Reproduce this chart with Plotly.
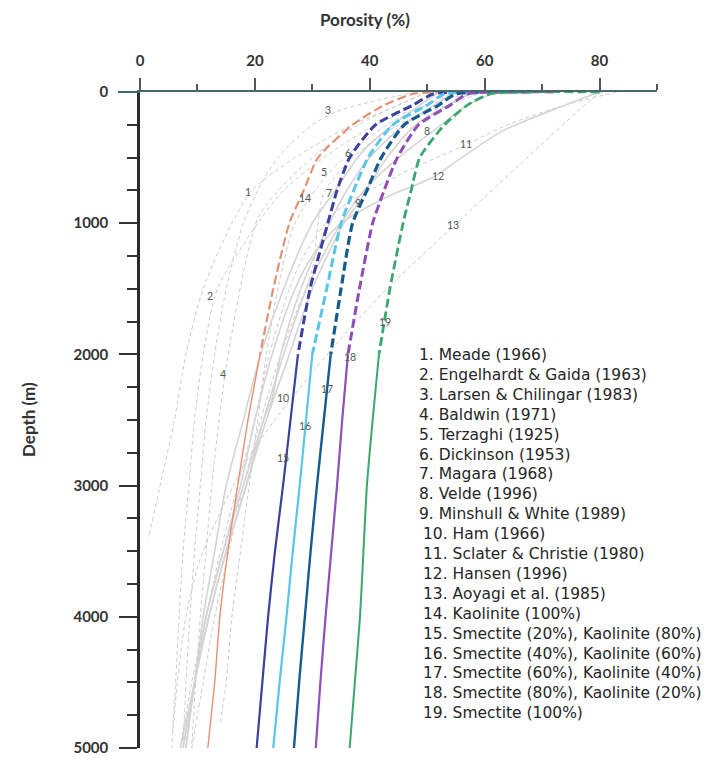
import plotly.graph_objects as go

# ---------------- data ----------------
# Published porosity-depth curves (grey)
meade_d = [0, 100, 250, 500, 750, 1000, 1500, 2000, 2500, 3000, 3400]
meade_p = [50, 45, 37, 27, 19.5, 16, 11, 8, 6, 3.5, 1.5]
engel_d = [0, 100, 250, 500, 750, 1000, 1500, 2000, 2500, 3000, 3500, 4000, 4500, 4900]
engel_p = [58, 50, 41, 32, 25, 20.5, 13.5, 11, 9.5, 8.5, 7.5, 6.8, 6.2, 5.6]
larsen_d = [0, 137, 250, 500, 750, 1000, 1500, 2000, 2500, 3000, 3500, 4000, 4500, 5000]
larsen_p = [48, 35, 30, 24, 20.5, 18, 15, 13, 11.5, 10.5, 9.5, 8.7, 8, 7.5]
baldwin_d = [0, 250, 500, 920, 1280, 2150, 3000, 3500, 4000, 4500, 5000]
baldwin_p = [50, 38, 30, 21, 18.5, 14.8, 12.5, 11.5, 10.5, 9.7, 9]
terzaghi_d = [0, 250, 610, 1000, 1500, 2000, 2500, 3000, 3500, 4000, 4500, 4800]
terzaghi_p = [55, 43, 33, 27, 24, 22, 20.5, 19, 17.5, 16, 15, 14]
dickinson_d = [0, 250, 465, 750, 1000, 1500, 2000, 2500, 3000, 3500, 4000, 4500, 5000]
dickinson_p = [52, 44, 38.5, 34, 30, 25, 21, 18, 15, 13, 11, 9.5, 8]
magara_d = [0, 250, 500, 771, 1000, 1350, 1700, 2000, 2500, 3000, 3500, 4000, 4500, 5000]
magara_p = [60, 45, 37, 32, 31, 30, 27, 24.5, 21, 18, 15.5, 13, 11, 9]
velde_d = [0, 100, 298, 500, 750, 1000, 1500, 2000, 2500, 3000, 3500, 4000, 4500, 5000]
velde_p = [62, 57, 51, 45, 39, 35, 29, 25, 21.5, 18.5, 15, 12, 9.5, 7.5]
minshull_d = [0, 250, 500, 847, 1000, 1500, 2000, 2500, 3000, 3500, 4000, 4500, 5000]
minshull_p = [58, 48, 43, 38, 35.5, 30, 26, 22, 18.5, 15, 12, 9.5, 7]
ham_d = [0, 250, 500, 750, 1000, 1500, 2000, 2336, 2500, 3000, 3500, 4000, 4500, 5000]
ham_p = [55, 46, 40, 36, 33, 28, 24.5, 23, 21.5, 18, 14.5, 11.5, 9.5, 8]
sclater_d = [0, 100, 250, 397, 634, 916, 1250, 1500, 2000, 2500, 3000, 3500, 4000, 4500, 5000]
sclater_p = [83, 74, 64, 57, 45, 34, 28.5, 26, 22.5, 20, 17, 14, 11.5, 9, 7]
hansen_d = [0, 100, 300, 500, 650, 800, 1000, 1250, 1500, 2000, 2500, 3000, 3500, 4000, 4500, 5000]
hansen_p = [80, 74, 63, 56, 51, 43, 35, 30, 27, 23, 20, 17.5, 14.5, 11.5, 9.5, 7.5]
aoyagi_d = [0, 23, 557, 1030, 1500, 1950, 2480, 2810, 3200, 3570, 4000, 4500, 5000]
aoyagi_p = [80.5, 79.5, 66, 54.4, 43, 33.6, 23.8, 18.6, 14, 10.4, 8, 6.5, 5.5]

# Clay-mixture curves (coloured)
mix_depth = [0, 15, 100, 250, 500, 750, 1000, 1500, 2000, 2500, 3000, 3500, 4000, 4500, 5000]
kaol100_p = [53, 47.5, 42.5, 37, 31, 28.5, 26, 23.2, 20.9, 18.8, 17, 15.3, 13.9, 13, 11.8]
sm20_p = [58, 51, 47.5, 41, 36.5, 34.3, 32.7, 29.6, 27.5, 26.2, 24.9, 23.5, 22.3, 21.3, 20.3]
sm40_p = [62, 53, 50, 44, 39.7, 37.2, 35, 32.5, 30, 28.9, 27.8, 26.6, 25.5, 24.3, 23.2]
sm60_p = [68, 55, 52, 46, 42, 39.5, 37, 35, 33.2, 32, 30.8, 29.7, 28.7, 27.7, 26.8]
sm80_p = [72, 57, 54, 48.5, 44.8, 42.5, 40.5, 38.2, 36.2, 35.2, 34.3, 33.3, 32.3, 31.4, 30.6]
sm100_p = [80, 61, 57, 53, 48.7, 47.2, 45.8, 43.5, 41.6, 40.5, 39.5, 38.9, 38.3, 37.4, 36.5]
dash_limit = 2000  # coloured curves dashed above this depth, solid below

legend_labels = [
    "1. Meade (1966)",
    "2. Engelhardt & Gaida (1963)",
    "3. Larsen & Chilingar (1983)",
    "4. Baldwin (1971)",
    "5. Terzaghi (1925)",
    "6. Dickinson (1953)",
    "7. Magara (1968)",
    "8. Velde (1996)",
    "9. Minshull & White (1989)",
    "10. Ham (1966)",
    "11. Sclater & Christie (1980)",
    "12. Hansen (1996)",
    "13. Aoyagi et al. (1985)",
    "14. Kaolinite (100%)",
    "15. Smectite (20%), Kaolinite (80%)",
    "16. Smectite (40%), Kaolinite (60%)",
    "17. Smectite (60%), Kaolinite (40%)",
    "18. Smectite (80%), Kaolinite (20%)",
    "19. Smectite (100%)",
]
curve_numbers = ["1", "2", "3", "4", "5", "6", "7", "8", "9", "10",
                 "11", "12", "13", "14", "15", "16", "17", "18", "19"]
label_por = [18.8, 12.2, 32.7, 14.4, 32, 36.2, 32.9, 49.9, 38, 24.9,
             56.7, 51.8, 54.4, 28.7, 24.9, 28.7, 32.5, 36.5, 42.6]
label_depth = [763, 1557, 137, 2150, 610, 465, 771, 298, 847, 2336,
               397, 641, 1015, 809, 2786, 2542, 2260, 2023, 1756]

x_major = [0, 20, 40, 60, 80]
y_major = [0, 1000, 2000, 3000, 4000, 5000]

# ---------------- figure ----------------
fig = go.Figure()

grey_curves = [
    (meade_d, meade_p, "dash"), (engel_d, engel_p, "dash"), (larsen_d, larsen_p, "dash"),
    (baldwin_d, baldwin_p, "dash"), (terzaghi_d, terzaghi_p, "dash"),
    (dickinson_d, dickinson_p, "solid"), (magara_d, magara_p, "dash"),
    (velde_d, velde_p, "solid"), (minshull_d, minshull_p, "solid"),
    (ham_d, ham_p, "solid"), (sclater_d, sclater_p, "dash"),
    (hansen_d, hansen_p, "solid"), (aoyagi_d, aoyagi_p, "dash"),
]
for d, p, dash in grey_curves:
    fig.add_trace(go.Scatter(
        x=p, y=d, mode="lines", line_shape="spline",
        line=dict(color="#cbcbcb" if dash == "dash" else "#d4d4d4",
                  width=1 if dash == "dash" else 1.6,
                  dash="4px,3px" if dash == "dash" else "solid", smoothing=0.8),
        showlegend=False, hoverinfo="skip"))

mix_curves = [
    (kaol100_p, "#e39272", 1.8),
    (sm20_p, "#3c3f9c", 2.6),
    (sm40_p, "#58c6e4", 2.6),
    (sm60_p, "#165b8f", 2.8),
    (sm80_p, "#8f4fb6", 2.6),
    (sm100_p, "#3aa86e", 2.4),
]
for p, col, w in mix_curves:
    up_d = [d for d in mix_depth if d <= dash_limit]
    up_p = [v for d, v in zip(mix_depth, p) if d <= dash_limit]
    lo_d = [d for d in mix_depth if d >= dash_limit]
    lo_p = [v for d, v in zip(mix_depth, p) if d >= dash_limit]
    fig.add_trace(go.Scatter(x=up_p, y=up_d, mode="lines", line_shape="spline",
                             line=dict(color=col, width=w + 0.4, dash="9px,4px", smoothing=0.6),
                             showlegend=False, hoverinfo="skip"))
    fig.add_trace(go.Scatter(x=lo_p, y=lo_d, mode="lines", line_shape="spline",
                             line=dict(color=col, width=w - 0.4, smoothing=0.6),
                             showlegend=False, hoverinfo="skip"))

# curve number labels
for t, xp, yd in zip(curve_numbers, label_por, label_depth):
    fig.add_annotation(x=xp, y=yd, xref="x", yref="y", text=t, showarrow=False,
                       font=dict(family="Lato", size=10.5, color="#4d5a52"))

# legend text block
W, H = 710, 759
L, R, T, B = 140, 53, 92, 11
pw, ph = W - L - R, H - T - B
leg_y0, leg_step = 355, 19.9
for i, txt in enumerate(legend_labels):
    xpx = 417 if i < 9 else 421
    ypx = leg_y0 + i * leg_step
    fig.add_annotation(x=(xpx - L) / pw, y=1 - (ypx - T) / ph, xref="paper", yref="paper",
                       text=txt, showarrow=False, xanchor="left", yanchor="middle",
                       font=dict(family="DejaVu Sans", size=15.5, color="#262626"))

# axis titles
fig.add_annotation(x=(365 - L) / pw, y=1 + (T - 20) / ph, xref="paper", yref="paper",
                   text="Porosity (%)", showarrow=False, xanchor="center", yanchor="middle",
                   font=dict(family="Lato", size=17, color="#333333", weight="bold"))
fig.add_annotation(x=-(L - 28) / pw, y=1 - (420 - T) / ph, xref="paper", yref="paper",
                   text="Depth (m)", showarrow=False, textangle=-90,
                   xanchor="center", yanchor="middle",
                   font=dict(family="Lato", size=17, color="#333333", weight="bold"))

# short extension of the zero-depth line left of the depth axis
fig.add_shape(type="line", xref="paper", yref="paper", x0=-(L - 118) / pw, x1=0, y0=1, y1=1,
              line=dict(color="#3f6b6b", width=2))

tickfont = dict(family="Lato", size=15, color="#333333", weight="bold")
fig.update_xaxes(range=[0, 90], side="top", showgrid=False, zeroline=False, automargin=False,
                 showline=True, linecolor="#4a6767", linewidth=2,
                 tickmode="array", tickvals=x_major, ticks="outside", ticklen=12,
                 tickwidth=2, tickcolor="#555555", tickfont=tickfont, ticklabelstandoff=6,
                 minor=dict(dtick=10, tick0=0, ticks="outside", ticklen=6, tickwidth=2,
                            tickcolor="#555555"))
fig.update_yaxes(range=[5000, 0], showgrid=False, zeroline=False, automargin=False,
                 showline=True, linecolor="#2b2b2b", linewidth=2.5,
                 tickmode="array", tickvals=y_major, ticks="outside", ticklen=18,
                 tickwidth=2, tickcolor="#333333", tickfont=tickfont, ticklabelstandoff=8,
                 minor=dict(dtick=250, tick0=0, ticks="outside", ticklen=10, tickwidth=2,
                            tickcolor="#333333"))

fig.update_layout(width=W, height=H, margin=dict(l=L, r=R, t=T, b=B, autoexpand=False),
                  paper_bgcolor="white", plot_bgcolor="white", showlegend=False)

fig.write_html("out.html", config={"displayModeBar": False},
               post_script="document.body.style.margin='0';document.body.style.padding='0';")
